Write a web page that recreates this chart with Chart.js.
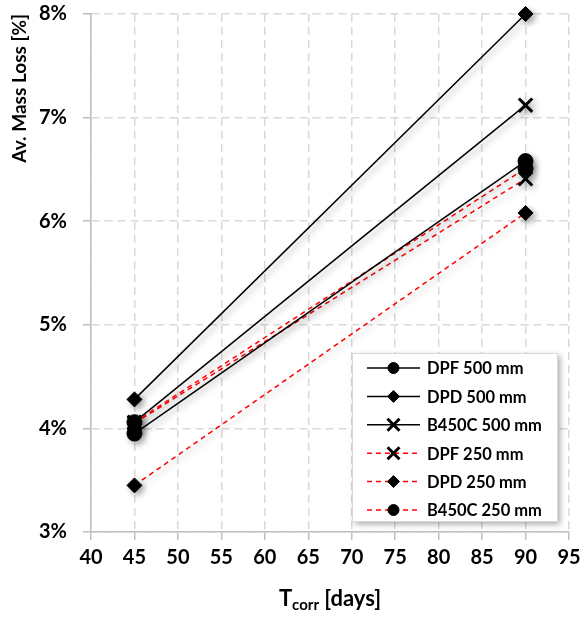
<!DOCTYPE html>
<html>
<head>
<meta charset="utf-8">
<script src="https://cdn.jsdelivr.net/npm/chart.js@4/dist/chart.umd.min.js"></script>
<style>
  html, body { margin: 0; padding: 0; background: #fff; }
  #wrap { width: 585px; height: 618px; position: relative; }
</style>
</head>
<body>
<div id="wrap"><canvas id="chart" width="585" height="618"></canvas></div>
<script>
// data (mass loss in %)
var days = [45, 90];
var dpf500 = [3.95, 6.58];
var dpd500 = [4.28, 8.00];
var b450c500 = [4.06, 7.12];
var dpf250 = [4.05, 6.41];
var dpd250 = [3.45, 6.08];
var b450c250 = [4.06, 6.51];
var xTicks = [40, 95, 5];   // min, max, step
var yTicks = [3, 8, 1];

var FONT = 'Lato, "Open Sans", sans-serif';

var toPoints = function(vals) {
  return days.map(function(d, i) { return { x: d, y: vals[i] }; });
};

var solid = function(label, vals, style, r, bw) {
  return {
    label: label, data: toPoints(vals), clip: false,
    // circles sit on top of the crosses, as in the original
    order: style === 'circle' ? 0 : 1,
    borderColor: '#000', backgroundColor: '#000', borderWidth: 1.5,
    pointStyle: style, pointRadius: r, pointBorderWidth: bw || 1,
    pointBorderColor: '#000', pointBackgroundColor: '#000'
  };
};
var dashed = function(label, vals, style, r, bw) {
  var ds = solid(label, vals, style, r, bw);
  ds.borderColor = '#ff0000';
  ds.borderDash = [5, 4];
  return ds;
};

var datasets = [
  solid('DPF 500 mm', dpf500, 'circle', 7.5),
  solid('DPD 500 mm', dpd500, 'rectRot', 7.5),
  solid('B450C 500 mm', b450c500, 'crossRot', 9.5, 3),
  dashed('DPF 250 mm', dpf250, 'crossRot', 9.5, 3),
  dashed('DPD 250 mm', dpd250, 'rectRot', 7.5),
  dashed('B450C 250 mm', b450c250, 'circle', 7.5)
];

// soft drop shadow like the spreadsheet original
var shadowPlugin = {
  id: 'shadow',
  beforeDatasetsDraw: function(chart) {
    var ctx = chart.ctx;
    ctx.save();
    ctx.shadowColor = 'rgba(0,0,0,0.35)';
    ctx.shadowBlur = 6;
    ctx.shadowOffsetX = 3;
    ctx.shadowOffsetY = 3;
  },
  afterDatasetsDraw: function(chart) {
    chart.ctx.restore();
  }
};

// legend box inside the plot, bottom right
var boxLegend = {
  id: 'boxLegend',
  afterDraw: function(chart) {
    var ctx = chart.ctx;
    var x0 = 352, y0 = 353, w = 205, h = 168;
    ctx.save();
    ctx.shadowColor = 'rgba(0,0,0,0.35)';
    ctx.shadowBlur = 6;
    ctx.shadowOffsetX = 3;
    ctx.shadowOffsetY = 3;
    ctx.fillStyle = '#fff';
    ctx.fillRect(x0, y0, w, h);
    ctx.restore();
    ctx.save();
    ctx.strokeStyle = '#d9d9d9';
    ctx.lineWidth = 1;
    ctx.strokeRect(x0 + 0.5, y0 + 0.5, w, h);
    chart.data.datasets.forEach(function(ds, i) {
      var y = 368 + i * 28.4;
      ctx.save();
      ctx.strokeStyle = ds.borderColor;
      ctx.lineWidth = 1.5;
      ctx.setLineDash(ds.borderDash || []);
      ctx.beginPath();
      ctx.moveTo(367, y);
      ctx.lineTo(420, y);
      ctx.stroke();
      ctx.restore();
      ctx.save();
      ctx.fillStyle = '#000';
      ctx.strokeStyle = '#000';
      ctx.lineWidth = ds.pointBorderWidth;
      Chart.helpers.drawPoint(ctx, {
        pointStyle: ds.pointStyle,
        radius: ds.pointStyle === 'crossRot' ? 8.5 : (ds.pointStyle === 'circle' ? 5.5 : 6),
        borderWidth: ds.pointBorderWidth,
        rotation: 0
      }, 393.5, y);
      ctx.restore();
      ctx.fillStyle = '#000';
      ctx.font = 'bold 16.5px ' + FONT;
      ctx.textBaseline = 'middle';
      ctx.textAlign = 'left';
      ctx.fillText(ds.label, 427, y + 1);
    });
    ctx.restore();
  }
};

// x axis title with subscript: T_corr [days]
var xTitle = {
  id: 'xTitle',
  afterDraw: function(chart) {
    var ctx = chart.ctx;
    var a = chart.chartArea;
    var big = 'bold 22px ' + FONT, small = 'bold 15px ' + FONT;
    ctx.save();
    ctx.fillStyle = '#000';
    ctx.textBaseline = 'alphabetic';
    ctx.font = big;
    var wT = ctx.measureText('T').width;
    var wR = ctx.measureText(' [days]').width;
    ctx.font = small;
    var wS = ctx.measureText('corr').width;
    var x = (a.left + a.right) / 2 - (wT + wS + wR) / 2;
    var y = 606;
    ctx.font = big;
    ctx.fillText('T', x, y);
    ctx.font = small;
    ctx.fillText('corr', x + wT, y + 4);
    ctx.font = big;
    ctx.fillText(' [days]', x + wT + wS, y);
    ctx.restore();
  }
};

var gridStyle = {
  color: '#d9d9d9',
  lineWidth: 1.5,
  tickBorderDash: [],
  tickColor: '#bfbfbf',
  tickLength: 8,
  drawTicks: true
};
var borderStyle = { color: '#bfbfbf', width: 1.5, dash: [8, 5] };

new Chart(document.getElementById('chart').getContext('2d'), {
  type: 'scatter',
  data: { datasets: datasets },
  options: {
    responsive: false,
    animation: false,
    showLine: true,
    layout: { padding: { top: 14, right: 16, left: 0, bottom: 0 } },
    plugins: { legend: { display: false }, tooltip: { enabled: false } },
    scales: {
      x: {
        type: 'linear',
        min: xTicks[0], max: xTicks[1],
        border: borderStyle,
        grid: gridStyle,
        ticks: { stepSize: xTicks[2], color: '#000', padding: 6, font: { family: FONT, size: 20, weight: 'bold' } },
        afterFit: function(s) { s.height = 86; s.paddingLeft = 0; s.paddingRight = 0; }
      },
      y: {
        type: 'linear',
        min: yTicks[0], max: yTicks[1],
        border: borderStyle,
        grid: gridStyle,
        ticks: {
          stepSize: yTicks[2], color: '#000', padding: 16,
          font: { family: FONT, size: 20, weight: 'bold' },
          callback: function(v) { return v + '%'; }
        },
        title: {
          display: true, text: 'Av. Mass Loss [%]', align: 'end', color: '#000',
          font: { family: FONT, size: 19, weight: 'bold' }, padding: { top: 8, bottom: 0 }
        },
        afterFit: function(s) { s.width = 91; s.paddingTop = 0; s.paddingBottom = 0; }
      }
    }
  },
  plugins: [shadowPlugin, boxLegend, xTitle]
});
</script>
</body>
</html>
